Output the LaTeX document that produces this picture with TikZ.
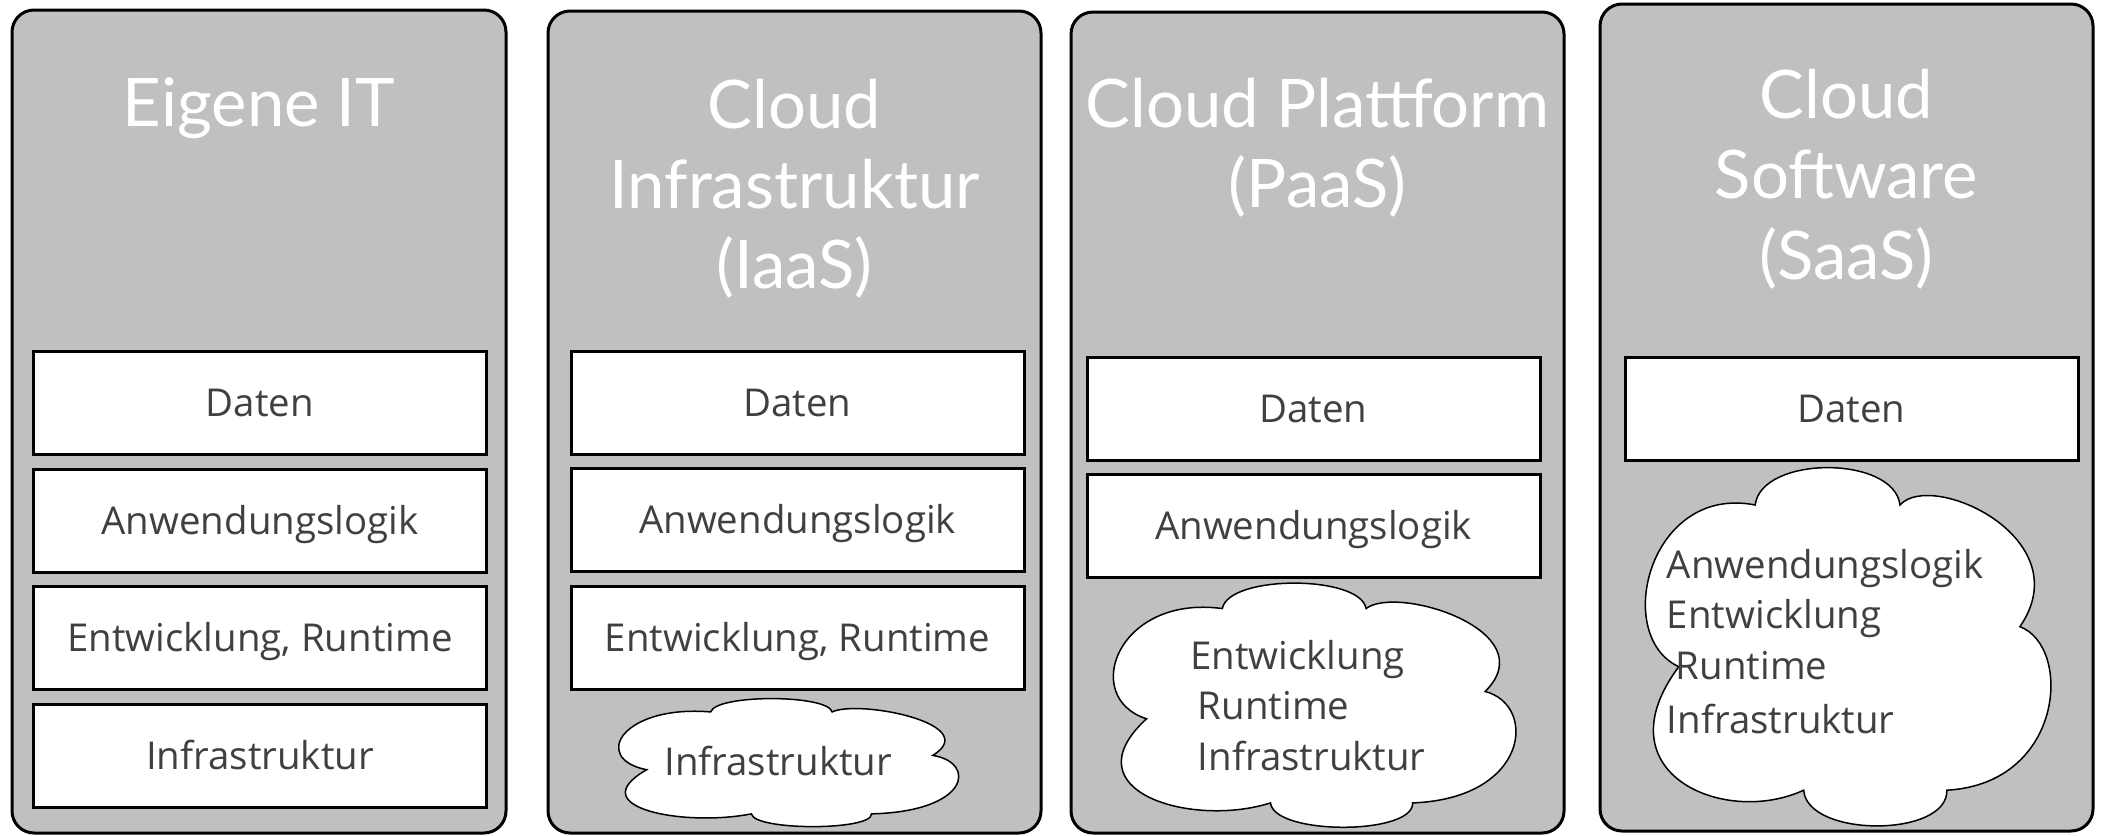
\documentclass[tikz,border=0pt]{standalone}
\usepackage{fontspec}
\setmainfont{Open Sans}
\newfontfamily\titlefont{Lato}
\definecolor{panelgray}{RGB}{192,192,192}
\definecolor{textgray}{RGB}{64,64,64}

\begin{document}
\begin{tikzpicture}[x=0.5pt,y=-0.5pt,
  panel/.style={draw=black, line width=1.5pt, fill=panelgray, rounded corners=11pt},
  layer/.style={draw=black, line width=1.5pt, fill=white, anchor=north west,
    minimum width=226.5pt, minimum height=51.5pt, inner sep=0pt, outer sep=0pt,
    text height=13.7pt, text depth=0pt, text=textgray,
    font=\fontsize{19.2pt}{23pt}\selectfont},
  title/.style={anchor=base, inner sep=0pt, text=white,
    font=\titlefont\fontsize{33.5pt}{40pt}\selectfont},
  cloudtext/.style={anchor=base west, inner sep=0pt, text=textgray,
    font=\fontsize{19.2pt}{23pt}\selectfont},
  cloudline/.style={draw=black, line width=0.75pt, fill=white}
]
\useasboundingbox (0,0) rectangle (2102,835);

% columns
\draw[panel] (12,10) rectangle (506,833);
\draw[panel] (548,11) rectangle (1041,833);
\draw[panel] (1071,12) rectangle (1564,833);
\draw[panel] (1600,4) rectangle (2093,831);

% column headings
\node[title] (t1)  at (259,126) {Eigene IT};
\node[title] (t2a) at (794.5,128) {Cloud};
\node[title] (t2b) at (794.5,208) {Infrastruktur};
\node[title] (t2c) at (794.5,288) {(IaaS)};
\node[title] (t3a) at (1317.5,127) {Cloud Plattform};
\node[title] (t3b) at (1317.5,207) {(PaaS)};
\node[title] (t4a) at (1846.5,118) {Cloud};
\node[title] (t4b) at (1846.5,198.5) {Software};
\node[title] (t4c) at (1846.5,279) {(SaaS)};

% own IT: all four layers
\node[layer] (d1) at (33.5,351)   {Daten};
\node[layer] (a1) at (33.5,469)   {Anwendungslogik};
\node[layer] (e1) at (33.5,586.5) {Entwicklung, Runtime};
\node[layer] (i1) at (33.5,704)   {Infrastruktur};

% IaaS
\node[layer] (d2) at (571,351)   {Daten};
\node[layer] (a2) at (571,468.5) {Anwendungslogik};
\node[layer] (e2) at (571,586.5) {Entwicklung, Runtime};

% PaaS
\node[layer] (d3) at (1087,357) {Daten};
\node[layer] (a3) at (1087,474) {Anwendungslogik};

% SaaS
\node[layer] (d4) at (1625,357) {Daten};

% cloud outlines, drawn in a unit box (origin bottom left)
\def\cloudoutline{(0.275,0.892) .. controls (0.29,1.03) and (0.61,1.03) .. (0.624,0.892)
  .. controls (0.70,0.99) and (1.06,0.80) .. (0.913,0.555)
  .. controls (1.04,0.50) and (1.02,0.12) .. (0.737,0.102)
  .. controls (0.74,-0.03) and (0.40,-0.03) .. (0.392,0.102)
  .. controls (0.20,0.0) and (-0.10,0.15) .. (0.091,0.444)
  .. controls (-0.07,0.53) and (0.02,0.95) .. (0.275,0.892) -- cycle}

\begin{scope}[shift={(615,827)}, xscale=348, yscale=-129]
  \draw[cloudline] \cloudoutline;
\end{scope}
\begin{scope}[shift={(1109,828)}, xscale=412, yscale=-246]
  \draw[cloudline] \cloudoutline;
\end{scope}
\begin{scope}[shift={(1641,827)}, xscale=415, yscale=-361]
  \draw[cloudline] \cloudoutline;
\end{scope}

% text inside the clouds
\node[cloudtext] (c2a) at (664,775) {Infrastruktur};

\node[cloudtext] (c3a) at (1190,669) {Entwicklung};
\node[cloudtext] (c3b) at (1197.5,719) {Runtime};
\node[cloudtext] (c3c) at (1197.5,770) {Infrastruktur};

\node[cloudtext] (c4a) at (1666.5,578) {Anwendungslogik};
\node[cloudtext] (c4b) at (1666.5,628) {Entwicklung};
\node[cloudtext] (c4c) at (1675.5,679) {Runtime};
\node[cloudtext] (c4d) at (1666.5,733) {Infrastruktur};
\end{tikzpicture}
\end{document}
